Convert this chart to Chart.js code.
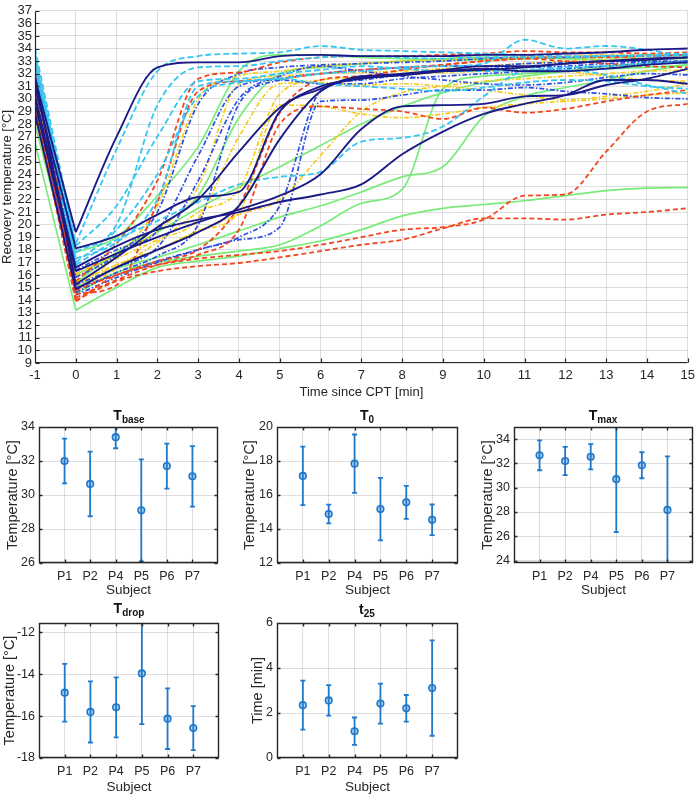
<!DOCTYPE html>
<html>
<head>
<meta charset="utf-8">
<script src="https://cdn.jsdelivr.net/npm/chart.js@4.4.0/dist/chart.umd.min.js"></script>
<style>
body { margin: 0; background: #fff; width: 700px; height: 798px; position: relative; overflow: hidden; font-family: "Liberation Sans", Arial, sans-serif; }
.box { position: absolute; }
.ttl { position: absolute; width: 140px; text-align: center; font-weight: bold; font-size: 14px; line-height: 14px; color: #111; }
.ttl sub { font-size: 10px; vertical-align: -3px; line-height: 0; }
</style>
</head>
<body>
<div class="box" style="left:0;top:0;width:700px;height:400px"><canvas id="main"></canvas></div>
<div class="box" style="left:0;top:400px;width:230px;height:200px"><canvas id="pBase"></canvas></div>
<div class="box" style="left:235px;top:400px;width:230px;height:200px"><canvas id="pT0"></canvas></div>
<div class="box" style="left:470px;top:400px;width:230px;height:200px"><canvas id="pMax"></canvas></div>
<div class="box" style="left:0;top:596px;width:230px;height:202px"><canvas id="pDrop"></canvas></div>
<div class="box" style="left:235px;top:596px;width:230px;height:202px"><canvas id="pT25"></canvas></div>
<div class="ttl" style="left:59px;top:408px">T<sub>base</sub></div>
<div class="ttl" style="left:297px;top:408px">T<sub>0</sub></div>
<div class="ttl" style="left:533px;top:408px">T<sub>max</sub></div>
<div class="ttl" style="left:59px;top:601px">T<sub>drop</sub></div>
<div class="ttl" style="left:297px;top:602px">t<sub>25</sub></div>
<script>
// ---- data: recovery curves (value at t=-1, then t=0..15 min) ----
const times = [0, 1, 2, 3, 4, 5, 6, 7, 8, 9, 10, 11, 12, 13, 14, 15];
const xTicks = [-1, 0, 1, 2, 3, 4, 5, 6, 7, 8, 9, 10, 11, 12, 13, 14, 15];
const yTicks = [9, 10, 11, 12, 13, 14, 15, 16, 17, 18, 19, 20, 21, 22, 23, 24, 25, 26, 27, 28, 29, 30, 31, 32, 33, 34, 35, 36, 37];

const navyStart = [31.6, 31.0, 30.2, 29.6, 31.8, 28.8];
const navyCurves = [
    [19.4, 27.0, 32.5, 32.9, 32.9, 33.4, 33.5, 33.4, 33.4, 33.4, 33.5, 33.5, 33.6, 33.7, 33.9, 34.0],
    [18.1, 19.1, 20.8, 22.2, 22.6, 29.0, 30.8, 31.8, 31.9, 32.2, 32.4, 32.2, 32.2, 32.4, 32.7, 32.9],
    [16.6, 18.3, 19.6, 20.4, 21.0, 21.8, 22.4, 23.2, 25.6, 27.4, 28.8, 29.6, 30.3, 31.5, 31.5, 31.2],
    [16.3, 17.7, 19.0, 20.2, 21.2, 22.3, 24.0, 27.6, 29.4, 29.5, 29.6, 30.2, 30.3, 31.1, 31.6, 32.4],
    [15.25, 17.4, 19.8, 22.0, 25.8, 29.3, 31.0, 31.6, 31.9, 32.2, 32.3, 32.5, 32.8, 33.0, 33.2, 33.3],
    [14.85, 16.6, 18.0, 19.4, 21.5, 26.8, 30.6, 31.7, 32.0, 32.3, 32.6, 32.6, 32.8, 33.0, 33.1, 33.3]
];
const cyanStart = [34.0, 33.6, 33.3, 32.5, 33.0, 32.9];
const cyanCurves = [
    [18.5, 26.0, 32.2, 33.4, 33.6, 33.7, 34.2, 33.9, 33.8, 33.7, 33.6, 33.5, 33.4, 33.4, 33.4, 33.5],
    [17.8, 20.0, 29.5, 32.5, 32.6, 33.0, 33.3, 33.4, 33.3, 33.2, 33.3, 33.3, 33.3, 33.4, 33.5, 33.6],
    [17.3, 18.6, 22.0, 31.0, 31.4, 31.6, 32.0, 32.2, 32.5, 32.6, 32.8, 34.7, 34.0, 34.2, 33.9, 33.3],
    [16.8, 18.8, 20.3, 21.8, 23.2, 23.8, 24.2, 26.6, 26.9, 27.8, 30.2, 32.2, 32.3, 31.9, 31.1, 30.4],
    [18.3, 21.5, 27.0, 31.4, 31.6, 32.0, 32.3, 32.6, 32.4, 32.2, 32.2, 32.3, 32.5, 32.6, 32.8, 32.9],
    [17.0, 19.6, 24.0, 30.2, 31.3, 31.6, 31.2, 31.0, 30.8, 30.6, 30.9, 31.3, 31.5, 31.4, 31.0, 30.8]
];
const redStart = [33.1, 32.0, 31.2, 30.0, 29.3, 29.0];
const redCurves = [
    [15.5, 18.5, 23.5, 31.6, 32.1, 32.9, 33.3, 33.4, 33.4, 33.5, 33.6, 33.8, 33.7, 33.7, 33.6, 33.7],
    [14.5, 15.2, 21.8, 30.6, 31.4, 31.6, 32.0, 32.3, 32.5, 32.7, 33.0, 33.2, 33.0, 32.8, 32.6, 32.5],
    [14.2, 15.6, 16.8, 17.6, 19.6, 28.0, 29.4, 29.2, 29.0, 28.4, 29.3, 28.9, 29.2, 29.8, 30.3, 30.7],
    [14.0, 15.5, 16.3, 16.7, 16.95, 17.4, 17.9, 18.4, 18.8, 19.7, 20.5, 20.5, 20.4, 20.8, 21.0, 21.3],
    [13.9, 16.0, 16.8, 17.3, 17.6, 17.9, 18.4, 19.0, 19.6, 19.8, 20.4, 22.3, 22.4, 25.8, 29.0, 29.6],
    [14.8, 16.0, 17.1, 18.0, 21.5, 28.9, 31.5, 31.8, 32.3, 32.7, 33.0, 33.2, 33.3, 33.3, 33.4, 33.5]
];
const blueStart = [32.5, 31.8, 31.0, 30.5, 30.0, 32.8];
const blueCurves = [
    [15.8, 17.6, 21.0, 29.6, 32.0, 32.5, 32.7, 32.8, 32.9, 33.0, 33.2, 33.3, 33.3, 33.4, 33.4, 33.5],
    [15.2, 16.6, 18.2, 23.5, 30.0, 31.8, 32.6, 32.2, 31.8, 31.5, 31.2, 31.1, 31.3, 31.7, 32.0, 31.9],
    [14.6, 16.2, 17.5, 20.0, 29.6, 31.5, 32.0, 32.3, 32.5, 32.6, 32.6, 32.8, 32.9, 33.0, 33.0, 33.0],
    [14.4, 15.8, 17.0, 18.0, 19.0, 21.5, 30.6, 31.5, 31.9, 32.2, 32.4, 32.5, 32.6, 32.8, 32.9, 32.9],
    [15.0, 16.0, 17.1, 18.0, 18.8, 19.8, 29.8, 29.9, 30.3, 30.7, 30.7, 30.9, 30.6, 30.4, 30.1, 30.0],
    [16.4, 18.0, 19.5, 25.5, 31.0, 31.5, 31.2, 31.2, 31.6, 31.8, 32.0, 32.2, 32.4, 32.6, 32.8, 33.0]
];
const yellowStart = [31.6, 30.8, 30.0, 32.2, 29.3, 28.6];
const yellowCurves = [
    [16.1, 17.6, 19.5, 23.0, 31.2, 31.8, 32.0, 32.1, 32.2, 32.4, 32.6, 32.8, 33.0, 33.1, 33.2, 33.3],
    [15.9, 17.3, 18.8, 20.5, 27.0, 31.2, 31.3, 31.1, 31.2, 31.0, 30.7, 30.3, 29.9, 30.2, 30.6, 31.2],
    [15.4, 16.8, 18.0, 19.5, 21.0, 29.5, 29.4, 28.8, 28.5, 28.8, 29.3, 29.6, 29.8, 30.0, 30.3, 30.5],
    [15.0, 17.5, 21.5, 30.0, 31.8, 32.2, 32.6, 32.8, 33.0, 33.1, 33.2, 33.3, 33.4, 33.5, 33.5, 33.4],
    [14.6, 16.5, 18.6, 21.0, 22.8, 30.4, 31.5, 31.7, 31.9, 32.1, 32.2, 32.3, 32.2, 31.8, 31.5, 31.4],
    [14.8, 16.8, 18.0, 19.5, 20.8, 22.0, 25.5, 29.0, 30.5, 31.0, 31.4, 31.6, 31.8, 32.0, 32.2, 32.3]
];
const greenStart = [32.0, 26.5, 29.0, 30.2, 31.0, 28.0];
const greenCurves = [
    [17.8, 19.0, 22.3, 26.2, 32.2, 33.5, 33.5, 33.3, 33.2, 33.1, 33.1, 33.2, 33.3, 33.3, 33.2, 33.2],
    [13.2, 15.0, 16.6, 17.1, 17.5, 18.1, 18.7, 19.6, 20.7, 21.3, 21.6, 21.9, 22.3, 22.7, 22.9, 22.95],
    [15.0, 16.5, 17.4, 18.4, 19.5, 20.6, 21.5, 22.6, 23.8, 24.6, 28.6, 30.2, 30.9, 31.5, 32.2, 32.7],
    [14.5, 16.2, 17.0, 17.5, 17.9, 18.4, 19.9, 21.7, 22.8, 30.8, 31.8, 32.0, 32.2, 32.4, 32.5, 32.7],
    [16.0, 17.6, 19.4, 21.3, 23.0, 24.6, 26.3, 28.0, 29.4, 30.5, 31.3, 31.8, 32.2, 32.6, 32.8, 33.0],
    [15.4, 17.8, 19.8, 22.3, 28.5, 32.0, 32.5, 32.8, 33.0, 33.2, 33.3, 33.3, 33.2, 33.1, 33.0, 32.9]
];

// ---- data: per-subject summary (mean and half error bar) ----
const subjects = ['P1', 'P2', 'P4', 'P5', 'P6', 'P7'];
const tBaseMean = [32.0, 30.65, 33.4, 29.1, 31.7, 31.1];
const tBaseErr = [1.32, 1.9, 0.65, 3.0, 1.32, 1.78];
const t0Mean = [17.12, 14.88, 17.84, 15.17, 15.57, 14.54];
const t0Err = [1.72, 0.55, 1.72, 1.84, 0.97, 0.9];
const tMaxMean = [32.67, 32.2, 32.55, 30.7, 31.85, 28.17];
const tMaxErr = [1.23, 1.16, 1.04, 4.35, 1.07, 4.41];
const tDropMean = [-14.88, -15.8, -15.58, -13.96, -16.12, -16.57];
const tDropErr = [1.38, 1.46, 1.43, 2.42, 1.45, 1.05];
const t25Mean = [2.35, 2.56, 1.19, 2.42, 2.21, 3.11];
const t25Err = [1.09, 0.68, 0.61, 0.89, 0.59, 2.12];

const FONT = '"Liberation Sans", Arial, sans-serif';
const TXT = '#262626';
const GRID = 'rgba(0, 0, 0, 0.13)';
const BAR = '#1f78c9';

// MATLAB-like axes: dark axis lines and inward tick marks
const matlabAxes = {
    id: 'matlabAxes',
    afterDraw(chart, args, opts) {
        const { ctx, chartArea: a } = chart;
        const x = chart.scales.x, y = chart.scales.y;
        const L = Math.round(a.left) + 0.5, R = Math.round(a.right) - 0.5;
        const T = Math.round(a.top) + 0.5, B = Math.round(a.bottom) - 0.5;
        const len = opts.len || 4;
        ctx.save();
        ctx.strokeStyle = TXT;
        ctx.lineWidth = opts.lw || 1;
        ctx.beginPath();
        ctx.moveTo(L, T); ctx.lineTo(L, B); ctx.lineTo(R, B);
        if (opts.box) { ctx.lineTo(R, T); ctx.closePath(); }
        x.ticks.forEach(t => {
            const px = Math.round(x.getPixelForValue(t.value)) + 0.5;
            ctx.moveTo(px, B); ctx.lineTo(px, B - len);
            if (opts.box) { ctx.moveTo(px, T); ctx.lineTo(px, T + len); }
        });
        y.ticks.forEach(t => {
            const py = Math.round(y.getPixelForValue(t.value)) + 0.5;
            ctx.moveTo(L, py); ctx.lineTo(L + len, py);
            if (opts.box) { ctx.moveTo(R, py); ctx.lineTo(R - len, py); }
        });
        ctx.stroke();
        ctx.restore();
    }
};

// vertical error bars with caps, clipped to the plot area
const errorBars = {
    id: 'errorBars',
    beforeDatasetsDraw(chart, args, opts) {
        if (!opts.mean) return;
        const { ctx, chartArea: a } = chart;
        const x = chart.scales.x, y = chart.scales.y;
        ctx.save();
        ctx.beginPath();
        ctx.rect(a.left, a.top, a.right - a.left, a.bottom - a.top);
        ctx.clip();
        ctx.strokeStyle = BAR;
        ctx.lineWidth = 1.8;
        opts.mean.forEach((m, i) => {
            const px = x.getPixelForValue(i + 1);
            const hi = y.getPixelForValue(m + opts.err[i]);
            const lo = y.getPixelForValue(m - opts.err[i]);
            ctx.beginPath();
            ctx.moveTo(px, hi); ctx.lineTo(px, lo);
            ctx.moveTo(px - 2.5, hi); ctx.lineTo(px + 2.5, hi);
            ctx.moveTo(px - 2.5, lo); ctx.lineTo(px + 2.5, lo);
            ctx.stroke();
        });
        ctx.restore();
    }
};

// Build line datasets for the recovery plot
function buildDatasets() {
    const groups = [
        { color: '#1b1b87', dash: [], width: 1.9, start: navyStart, curves: navyCurves },
        { color: '#35c6f2', dash: [6, 3], width: 1.8, start: cyanStart, curves: cyanCurves },
        { color: '#f2471e', dash: [5, 3], width: 1.8, start: redStart, curves: redCurves },
        { color: '#2b4fe3', dash: [5, 2, 1.5, 2], width: 1.7, start: blueStart, curves: blueCurves },
        { color: '#f6cd1b', dash: [5, 2, 1.5, 2], width: 1.7, start: yellowStart, curves: yellowCurves },
        { color: '#78eb78', dash: [], width: 1.7, start: greenStart, curves: greenCurves }
    ];
    const sets = [];
    groups.forEach(g => {
        g.curves.forEach((c, i) => {
            const style = { borderColor: g.color, borderDash: g.dash, borderWidth: g.width, pointRadius: 0, fill: false };
            sets.push({ ...style, tension: 0, data: [{ x: -1, y: g.start[i] }, { x: 0, y: c[0] }] });
            sets.push({ ...style, cubicInterpolationMode: 'monotone', data: times.map((t, k) => ({ x: t, y: c[k] })) });
        });
    });
    return sets;
}

function axisTitle(text, size, pad) {
    return { display: true, text: text, color: TXT, font: { size: size, family: FONT }, padding: pad };
}

// Initialize main chart
function initMain() {
    const ctx = document.getElementById('main').getContext('2d');
    new Chart(ctx, {
        type: 'line',
        data: { datasets: buildDatasets() },
        plugins: [matlabAxes],
        options: {
            animation: false,
            responsive: true,
            maintainAspectRatio: false,
            layout: { padding: { top: 6, right: 10, left: 0, bottom: 0 } },
            plugins: { legend: { display: false }, tooltip: { enabled: false }, matlabAxes: { box: false, len: 4, lw: 1.2 } },
            scales: {
                x: {
                    type: 'linear', min: -1, max: 15,
                    afterFit(s) { s.height = 37; },
                    afterBuildTicks(s) { s.ticks = xTicks.map(v => ({ value: v })); },
                    grid: { color: GRID, drawTicks: false },
                    border: { display: false },
                    ticks: { color: TXT, font: { size: 13, family: FONT }, padding: 5, maxRotation: 0, autoSkip: false },
                    title: axisTitle('Time since CPT [min]', 13, { top: 0, bottom: 0 })
                },
                y: {
                    type: 'linear', min: 9, max: 37,
                    afterFit(s) { s.width = 35; },
                    afterBuildTicks(s) { s.ticks = yTicks.map(v => ({ value: v })); },
                    grid: { color: GRID, drawTicks: false },
                    border: { display: false },
                    ticks: { color: TXT, font: { size: 13, family: FONT }, padding: 3, autoSkip: false },
                    title: axisTitle('Recovery temperature [°C]', 13, { top: 0, bottom: 0 })
                }
            }
        }
    });
}

// One small error-bar panel; rect = canvas box, area = plot box (page px)
function makePanel(id, rect, area, yMin, yMax, yVals, yLabel, titlePad, mean, err) {
    const ctx = document.getElementById(id).getContext('2d');
    new Chart(ctx, {
        type: 'scatter',
        data: {
            datasets: [{
                data: mean.map((m, i) => ({ x: i + 1, y: m })),
                pointRadius: 3.3, pointBorderWidth: 1.6,
                pointBorderColor: BAR, pointBackgroundColor: 'rgba(31, 120, 201, 0.35)'
            }]
        },
        plugins: [matlabAxes, errorBars],
        options: {
            animation: false,
            responsive: true,
            maintainAspectRatio: false,
            layout: { padding: { top: area.y0 - rect.top, right: rect.left + rect.w - area.x1, left: 0, bottom: 0 } },
            plugins: {
                legend: { display: false }, tooltip: { enabled: false },
                matlabAxes: { box: true, len: 3, lw: 1.4 },
                errorBars: { mean: mean, err: err }
            },
            scales: {
                x: {
                    type: 'linear', min: 0, max: 7,
                    afterFit(s) { s.height = rect.top + rect.h - area.y1; },
                    afterBuildTicks(s) { s.ticks = [1, 2, 3, 4, 5, 6].map(v => ({ value: v })); },
                    grid: { color: GRID, drawTicks: false },
                    border: { display: false },
                    ticks: {
                        color: TXT, font: { size: 12.5, family: FONT }, padding: 6, maxRotation: 0, autoSkip: false,
                        callback: v => subjects[v - 1] || ''
                    },
                    title: axisTitle('Subject', 13.5, { top: 0, bottom: titlePad.x })
                },
                y: {
                    type: 'linear', min: yMin, max: yMax,
                    afterFit(s) { s.width = area.x0 - rect.left; },
                    afterBuildTicks(s) { s.ticks = yVals.map(v => ({ value: v })); },
                    grid: { color: GRID, drawTicks: false },
                    border: { display: false },
                    ticks: { color: TXT, font: { size: 12.5, family: FONT }, padding: 4, autoSkip: false },
                    title: axisTitle(yLabel, 14.5, { top: titlePad.y, bottom: 0 })
                }
            }
        }
    });
}

document.addEventListener('DOMContentLoaded', () => {
    initMain();
    makePanel('pBase', { left: 0, top: 400, w: 230, h: 200 }, { x0: 39, x1: 218, y0: 427, y1: 563 },
        26, 34, [26, 28, 30, 32, 34], 'Temperature [°C]', { x: 2, y: 4 }, tBaseMean, tBaseErr);
    makePanel('pT0', { left: 235, top: 400, w: 230, h: 200 }, { x0: 277, x1: 458, y0: 427, y1: 563 },
        12, 20, [12, 14, 16, 18, 20], 'Temperature [°C]', { x: 2, y: 6 }, t0Mean, t0Err);
    makePanel('pMax', { left: 470, top: 400, w: 230, h: 200 }, { x0: 514, x1: 693, y0: 427, y1: 563 },
        23.8, 35, [24, 26, 28, 30, 32, 34], 'Temperature [°C]', { x: 2, y: 9 }, tMaxMean, tMaxErr);
    makePanel('pDrop', { left: 0, top: 596, w: 230, h: 202 }, { x0: 39, x1: 219, y0: 623, y1: 758 },
        -18, -11.55, [-18, -16, -14, -12], 'Temperature [°C]', { x: 3, y: 1 }, tDropMean, tDropErr);
    makePanel('pT25', { left: 235, top: 596, w: 230, h: 202 }, { x0: 277, x1: 458, y0: 623, y1: 758 },
        0, 6, [0, 2, 4, 6], 'Time [min]', { x: 3, y: 14 }, t25Mean, t25Err);
});
</script>
</body>
</html>
